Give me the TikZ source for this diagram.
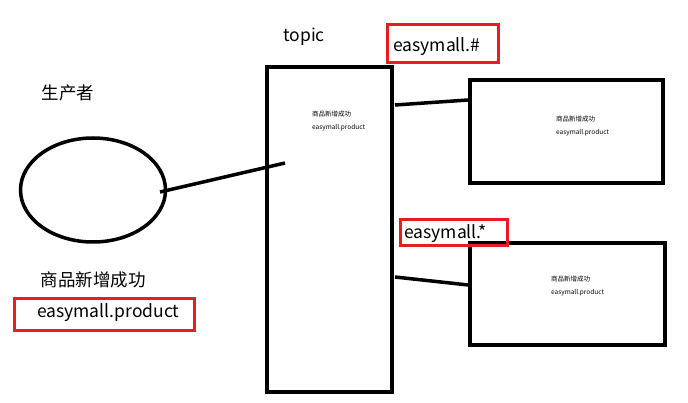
\documentclass[tikz,border=0pt]{standalone}
\usepackage{fontspec}
\usetikzlibrary{shapes.geometric}
\setmainfont{Noto Sans CJK SC}
\definecolor{boxred}{RGB}{232,28,36}
\begin{document}
\begin{tikzpicture}[x=1pt,y=-1pt,
  blk/.style={draw=black,line width=3.5pt},
  redbox/.style={draw=boxred,line width=3pt,inner sep=0pt},
  lbl/.style={font=\fontsize{17.5}{19}\selectfont,inner sep=0pt},
  tiny/.style={font=\fontsize{6.5}{13}\selectfont,inner sep=0pt,align=left},
  conn/.style={line width=3.5pt}]
\useasboundingbox[fill=white] (0,0) rectangle (688,403);
% producer ellipse
\node[blk,ellipse,minimum width=145pt,minimum height=104pt,inner sep=0pt] (prod) at (93,190) {};
\node[lbl] (prodlbl) at (68,93) {生产者};
% topic box
\node[blk,rectangle,minimum width=125pt,minimum height=325pt,inner sep=0pt] (topic) at (329.5,229.5) {};
\node[lbl] (topiclbl) at (304,37) {topic};
\node[tiny,anchor=west] (tmsg) at (312,121.5) {商品新增成功\\easymall.product};
% queues
\node[blk,rectangle,minimum width=193pt,minimum height=103pt,inner sep=0pt] (q1) at (566.5,131.5) {};
\node[tiny,anchor=west] (q1msg) at (556,126) {商品新增成功\\easymall.product};
\node[blk,rectangle,minimum width=195pt,minimum height=102pt,inner sep=0pt] (q2) at (567.5,294) {};
\node[tiny,anchor=west] (q2msg) at (551,286.5) {商品新增成功\\easymall.product};
% red labels
\draw[redbox] (387,25) rectangle (498,63);
\node[lbl,anchor=west] (k1) at (393,47) {easymall.\#};
\draw[redbox] (400,220) rectangle (507,246);
\node[lbl,anchor=west] (k2) at (404,234) {easymall.*};
\node[lbl] (newlbl) at (93,280) {商品新增成功};
\draw[redbox] (14,299) rectangle (194,330);
\node[lbl,anchor=west] (k3) at (37,313) {easymall.product};
% connectors
\coordinate (a1) at (160,192);
\coordinate (a2) at (285,163);
\draw[conn] (a1) -- (a2);
\coordinate (b1) at (395,105);
\draw[conn] (b1) -- (q1.west |- 0,100);
\coordinate (c1) at (395,277);
\draw[conn] (c1) -- (q2.west |- 0,285);
\end{tikzpicture}
\end{document}
